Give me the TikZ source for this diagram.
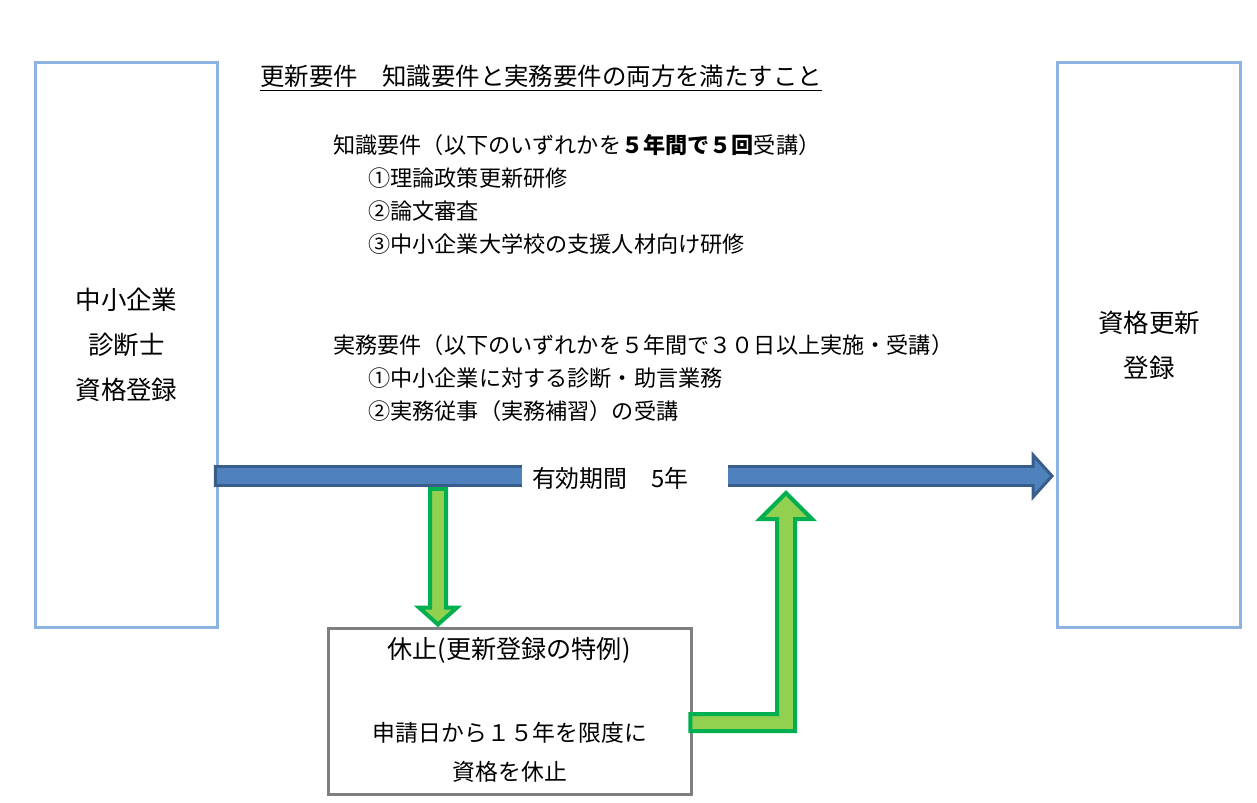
\documentclass[tikz,border=0pt]{standalone}
\usepackage{fontspec}
\setmainfont{Noto Sans CJK JP}
\usetikzlibrary{positioning, calc}

\definecolor{frameblue}{HTML}{8DB3E2}
\definecolor{framegray}{HTML}{7F7F7F}
\definecolor{arrowblue}{HTML}{4F81BD}
\definecolor{arrowdark}{HTML}{385D8A}
\definecolor{arrowlime}{HTML}{92D050}
\definecolor{arrowgreen}{HTML}{00B050}

\begin{document}
\begin{tikzpicture}[
            x=0.02cm, y=-0.02cm,
            regbox/.style={rectangle, draw=frameblue, line width=0.06cm, minimum width=3.66cm, minimum height=11.32cm, align=center, font=\fontsize{14.5}{25.5}\selectfont},
            pausebox/.style={rectangle, draw=framegray, line width=0.06cm, minimum width=7.28cm, minimum height=3.34cm},
            reqtext/.style={anchor=west, inner sep=0pt, font=\fontsize{12.6}{15}\selectfont},
            note/.style={align=center, inner sep=0pt, font=\fontsize{13}{22}\selectfont},
            bigarrow/.style={draw=arrowdark, fill=arrowblue, line width=0.06cm},
            greenarrow/.style={draw=arrowgreen, fill=arrowlime, line width=0.08cm}
        ]
            \useasboundingbox (0,0) rectangle (1257,803);

            % Boxes
            \node [regbox] (reg) at (126.5,345) {中小企業\\診断士\\資格登録};
            \node [regbox] (upd) at (1149,345) {資格更新\\登録};
            \node [pausebox] (pause) at (510,711.5) {};

            % Requirements
            \node [reqtext, font=\fontsize{13.9}{16}\selectfont] (title) at (260,78) {\underline{更新要件　知識要件と実務要件の両方を満たすこと}};
            \node [reqtext] (know) at (333,145) {知識要件（以下のいずれかを\textbf{５年間で５回}受講）};
            \node [reqtext] (know1) at ($(know.west)+(35,33)$) {①理論政策更新研修};
            \node [reqtext] (know2) at ($(know1.west)+(0,33)$) {②論文審査};
            \node [reqtext] (know3) at ($(know2.west)+(0,33)$) {③中小企業大学校の支援人材向け研修};
            \node [reqtext] (work) at (333,345) {実務要件（以下のいずれかを５年間で３０日以上実施・受講）};
            \node [reqtext] (work1) at ($(work.west)+(35,33)$) {①中小企業に対する診断・助言業務};
            \node [reqtext] (work2) at ($(work1.west)+(0,33)$) {②実務従事（実務補習）の受講};

            % Pause texts
            \node [note, font=\fontsize{14.3}{16}\selectfont] (pausetitle) at (509,650) {休止(更新登録の特例)};
            \node [note] (pausenote) at (510,752.5) {申請日から１５年を限度に\\資格を休止};

            % Validity arrow
            \coordinate (axis) at (0,476);
            \draw [bigarrow] ($(reg.east|-axis)+(-4,-9.5)$) -- ($(upd.west|-axis)+(-23,-9.5)$) -- ($(upd.west|-axis)+(-23,-21)$) -- ($(upd.west|-axis)+(-4,0)$) -- ($(upd.west|-axis)+(-23,21)$) -- ($(upd.west|-axis)+(-23,9.5)$) -- ($(reg.east|-axis)+(-4,9.5)$) -- cycle;
            \node [fill=white, text width=3.72cm, inner xsep=0.2cm, inner ysep=4pt, align=left, font=\fontsize{13.6}{16}\selectfont] (span) at (625,478) {有効期間　5年};

            % Green arrows
            \coordinate (halt) at (438,489);
            \coordinate (resume) at (786,490);
            \coordinate (arm) at (0,722.5);
            \draw [greenarrow] ($(halt)+(-8,0)$) -- ($(halt)+(8,0)$) -- ($(halt|-pause.north)+(8,-19)$) -- ($(halt|-pause.north)+(19,-19)$) -- ($(halt|-pause.north)+(0,-2)$) -- ($(halt|-pause.north)+(-19,-19)$) -- ($(halt|-pause.north)+(-8,-19)$) -- cycle;
            \draw [greenarrow] ($(pause.east|-arm)+(-3,-8.5)$) -- ($(resume|-arm)+(-9,-8.5)$) -- ($(resume)+(-9,29)$) -- ($(resume)+(-26,29)$) -- ($(resume)+(0,3)$) -- ($(resume)+(26,29)$) -- ($(resume)+(9,29)$) -- ($(resume|-arm)+(9,8.5)$) -- ($(pause.east|-arm)+(-3,8.5)$) -- cycle;
        \end{tikzpicture}
\end{document}
